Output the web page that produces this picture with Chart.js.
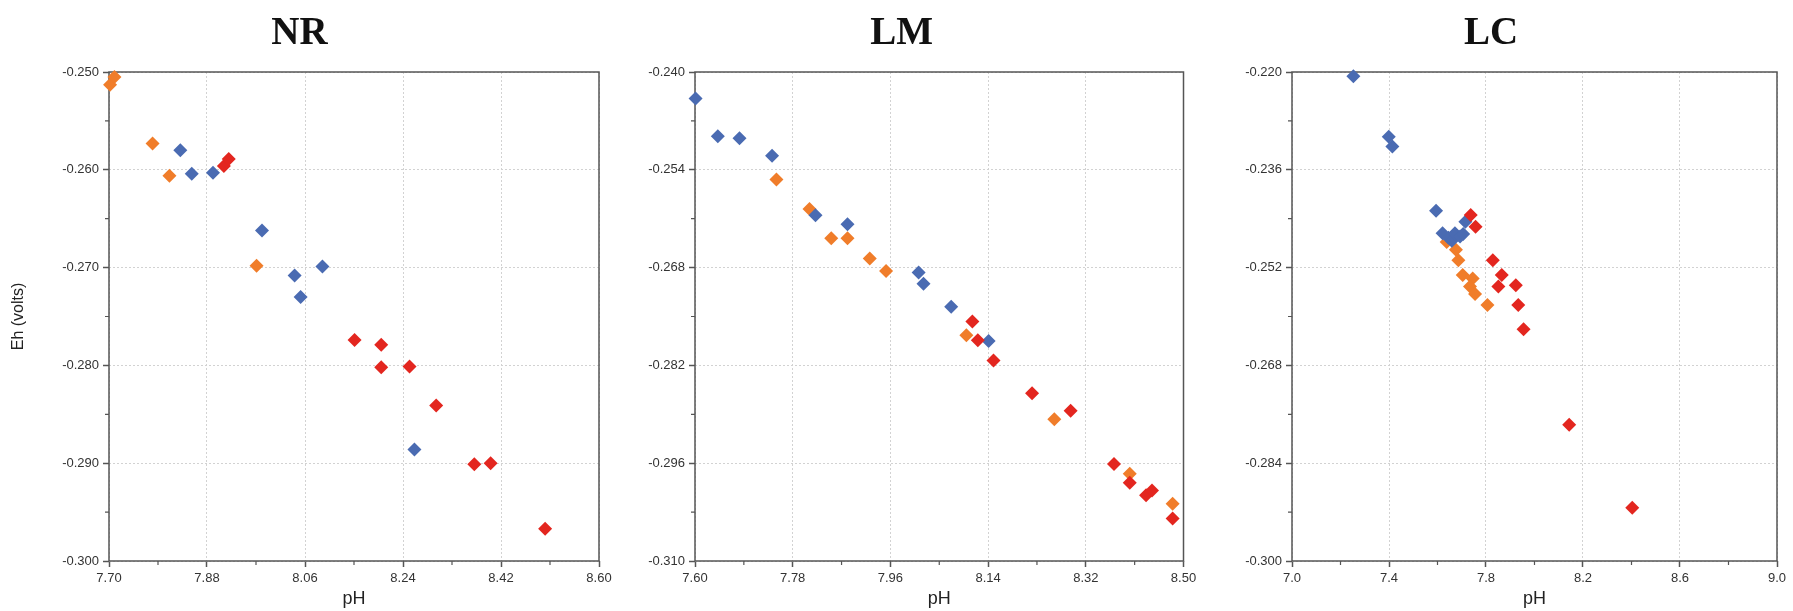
<!DOCTYPE html>
<html>
<head>
<meta charset="utf-8">
<title>Eh vs pH</title>
<script src="https://cdn.jsdelivr.net/npm/chart.js@4.4.1/dist/chart.umd.min.js"></script>
<style>
  html, body { margin: 0; padding: 0; background: #fff; }
  #wrap { position: relative; width: 1793px; height: 611px; overflow: hidden; }
  #wrap canvas { position: absolute; top: 0; }
</style>
</head>
<body>
<div id="wrap">
  <canvas id="nr" width="620" height="611" style="left:0"></canvas>
  <canvas id="lm" width="585" height="611" style="left:620px"></canvas>
  <canvas id="lc" width="588" height="611" style="left:1205px"></canvas>
</div>
<script>
// ---- NR ----
var nrPh1 = [7.831, 7.852, 7.891, 7.981, 8.041, 8.052, 8.092, 8.261];
var nrEh1 = [-0.2580, -0.2604, -0.2603, -0.2662, -0.2708, -0.2730, -0.2699, -0.2886];
var nrPh2 = [7.702, 7.710, 7.780, 7.811, 7.971];
var nrEh2 = [-0.2513, -0.2505, -0.2573, -0.2606, -0.2698];
var nrPh3 = [7.911, 7.920, 8.151, 8.200, 8.200, 8.252, 8.301, 8.371, 8.401, 8.501];
var nrEh3 = [-0.2596, -0.2589, -0.2774, -0.2779, -0.2802, -0.2801, -0.2841, -0.2901, -0.2900, -0.2967];

// ---- LM ----
var lmPh1 = [7.601, 7.642, 7.682, 7.742, 7.822, 7.881, 8.012, 8.021, 8.072, 8.141];
var lmEh1 = [-0.2438, -0.2492, -0.2495, -0.2520, -0.2605, -0.2618, -0.2687, -0.2703, -0.2736, -0.2785];
var lmPh2 = [7.750, 7.811, 7.851, 7.881, 7.922, 7.952, 8.100, 8.262, 8.401, 8.480];
var lmEh2 = [-0.2554, -0.2596, -0.2638, -0.2638, -0.2667, -0.2685, -0.2777, -0.2897, -0.2975, -0.3018];
var lmPh3 = [8.111, 8.121, 8.150, 8.221, 8.292, 8.372, 8.401, 8.431, 8.442, 8.480];
var lmEh3 = [-0.2757, -0.2784, -0.2813, -0.2860, -0.2885, -0.2961, -0.2988, -0.3006, -0.2999, -0.3039];

// ---- LC ----
var lcPh1 = [7.253, 7.399, 7.414, 7.594, 7.715, 7.621, 7.645, 7.659, 7.672, 7.693, 7.706];
var lcEh1 = [-0.2207, -0.2306, -0.2322, -0.2427, -0.2445, -0.2464, -0.2471, -0.2476, -0.2464, -0.2469, -0.2465];
var lcPh2 = [7.638, 7.676, 7.686, 7.704, 7.745, 7.734, 7.755, 7.806];
var lcEh2 = [-0.2478, -0.2491, -0.2508, -0.2532, -0.2538, -0.2551, -0.2563, -0.2581];
var lcPh3 = [7.737, 7.757, 7.828, 7.865, 7.851, 7.923, 7.933, 7.955, 8.143, 8.403];
var lcEh3 = [-0.2434, -0.2453, -0.2508, -0.2532, -0.2551, -0.2549, -0.2581, -0.2621, -0.2777, -0.2913];

// axis ranges: [min, max, step]
var nrPhAxis = [7.70, 8.60, 0.18];
var nrEhAxis = [-0.300, -0.250, 0.010];
var lmPhAxis = [7.60, 8.50, 0.18];
var lmEhAxis = [-0.310, -0.240, 0.014];
var lcPhAxis = [7.0, 9.0, 0.4];
var lcEhAxis = [-0.300, -0.220, 0.016];

(function() {
    "use strict";

    var SANS = '"Liberation Sans", Arial, Helvetica, sans-serif';
    var SERIF = '"Liberation Serif", "Times New Roman", serif';
    var AXIS_COLOR = '#555';

    function toPoints(xs, ys) {
        return xs.map(function(x, i) { return { x: x, y: ys[i] }; });
    }

    function series(xs, ys, color) {
        return {
            data: toPoints(xs, ys),
            backgroundColor: color,
            borderWidth: 0,
            pointStyle: 'rectRot',
            pointRadius: 7,
            pointHoverRadius: 7,
            clip: false
        };
    }

    // Plot frame plus the short unlabelled ticks between the labelled ones
    var frame = {
        id: 'frame',
        beforeDatasetsDraw: function(chart) {
            var ctx = chart.ctx, a = chart.chartArea;
            var sx = chart.scales.x, sy = chart.scales.y;
            ctx.save();
            ctx.strokeStyle = AXIS_COLOR;
            ctx.lineWidth = 1.5;
            ctx.strokeRect(a.left, a.top, a.right - a.left, a.bottom - a.top);
            ctx.lineWidth = 1.2;
            ctx.beginPath();
            var i, p;
            for (i = 0; i < sx.ticks.length - 1; i++) {
                p = sx.getPixelForValue((sx.ticks[i].value + sx.ticks[i + 1].value) / 2);
                ctx.moveTo(p, a.bottom);
                ctx.lineTo(p, a.bottom + 4);
            }
            for (i = 0; i < sy.ticks.length - 1; i++) {
                p = sy.getPixelForValue((sy.ticks[i].value + sy.ticks[i + 1].value) / 2);
                ctx.moveTo(a.left, p);
                ctx.lineTo(a.left - 4, p);
            }
            ctx.stroke();
            ctx.restore();
        }
    };

    function axis(range, digits) {
        return {
            type: 'linear',
            min: range[0],
            max: range[1],
            ticks: {
                stepSize: range[2],
                color: '#333',
                padding: 4,
                font: { family: SANS, size: 13 },
                callback: function(v) { return v.toFixed(digits); }
            },
            grid: {
                color: '#d2d2d2',
                lineWidth: 1,
                tickLength: 6,
                tickColor: AXIS_COLOR,
                tickWidth: 1.5
            },
            border: { display: false, dash: [2, 2] }
        };
    }

    function panel(id, cfg) {
        var x = axis(cfg.phAxis, cfg.phDigits);
        x.title = {
            display: true,
            text: 'pH',
            color: '#222',
            font: { family: SANS, size: 18, lineHeight: 1.2 },
            padding: { top: 0, bottom: 1 }
        };
        x.afterFit = function(s) { s.height = 50; };

        var y = axis(cfg.ehAxis, 3);
        y.afterFit = function(s) { s.width = cfg.yWidth; };
        if (cfg.yTitle) {
            y.title = {
                display: true,
                text: cfg.yTitle,
                color: '#222',
                font: { family: SANS, size: 16, lineHeight: 1.2 },
                padding: { top: 9, bottom: 0 }
            };
        }

        return new Chart(document.getElementById(id), {
            type: 'scatter',
            data: {
                datasets: [
                    series(cfg.ph3, cfg.eh3, '#e3261f'),
                    series(cfg.ph1, cfg.eh1, '#4a6bb2'),
                    series(cfg.ph2, cfg.eh2, '#f07d2a')
                ]
            },
            options: {
                responsive: false,
                animation: false,
                events: [],
                layout: { padding: { left: 0, right: cfg.padRight, top: 0, bottom: 0 } },
                plugins: {
                    legend: { display: false },
                    tooltip: { enabled: false },
                    title: {
                        display: true,
                        text: cfg.title,
                        color: '#111',
                        font: { family: SERIF, size: 39, weight: 'bold', lineHeight: 1.2 },
                        padding: { top: 11, bottom: 14.2 }
                    }
                },
                scales: { x: x, y: y }
            },
            plugins: [frame]
        });
    }

    panel('nr', {
        title: 'NR', yTitle: 'Eh (volts)', yWidth: 109, padRight: 21,
        phAxis: nrPhAxis, ehAxis: nrEhAxis, phDigits: 2,
        ph1: nrPh1, eh1: nrEh1, ph2: nrPh2, eh2: nrEh2, ph3: nrPh3, eh3: nrEh3
    });
    panel('lm', {
        title: 'LM', yWidth: 75, padRight: 21.5,
        phAxis: lmPhAxis, ehAxis: lmEhAxis, phDigits: 2,
        ph1: lmPh1, eh1: lmEh1, ph2: lmPh2, eh2: lmEh2, ph3: lmPh3, eh3: lmEh3
    });
    panel('lc', {
        title: 'LC', yWidth: 87, padRight: 16,
        phAxis: lcPhAxis, ehAxis: lcEhAxis, phDigits: 1,
        ph1: lcPh1, eh1: lcEh1, ph2: lcPh2, eh2: lcEh2, ph3: lcPh3, eh3: lcEh3
    });
})();
</script>
</body>
</html>
